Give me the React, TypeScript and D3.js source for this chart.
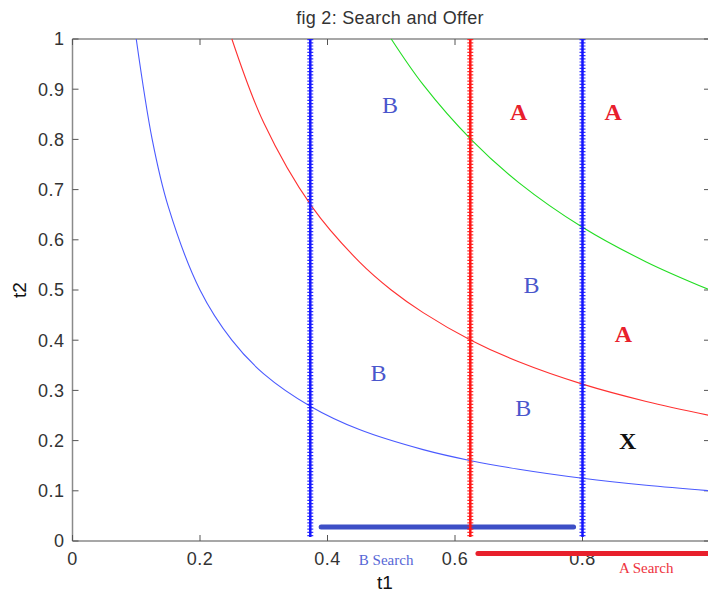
import * as d3 from "d3";
import { useRef, useEffect } from "react";

// curves (t1, t2)
const blueCurve: [number, number][] = [
  [0.1, 1], [0.125, 0.8], [0.15, 0.667], [0.2, 0.5], [0.25, 0.4], [0.3, 0.333],
  [0.375, 0.267], [0.45, 0.222], [0.55, 0.182], [0.625, 0.16], [0.7, 0.143],
  [0.8, 0.125], [0.9, 0.111], [1, 0.1],
];
const redCurve: [number, number][] = [
  [0.25, 1], [0.3, 0.833], [0.375, 0.667], [0.45, 0.556], [0.5, 0.5], [0.55, 0.455],
  [0.625, 0.4], [0.7, 0.357], [0.8, 0.3125], [0.9, 0.278], [1, 0.25],
];
const greenCurve: [number, number][] = [
  [0.5, 1], [0.55, 0.909], [0.625, 0.8], [0.7, 0.714], [0.8, 0.625], [0.9, 0.556], [1, 0.5],
];

const vLines = [
  { x: 0.373, color: "#1414ff" },
  { x: 0.624, color: "#ff1414" },
  { x: 0.8, color: "#1414ff" },
];

const searchBars = [
  { x0: 0.39, x1: 0.786, y: 0.028, color: "#3d4fc6" },
  { x0: 0.636, x1: 1.02, y: -0.025, color: "#e8202c" },
];

const searchLabels = [
  { text: "B Search", x: 0.492, y: -0.047, color: "#5666d6" },
  { text: "A Search", x: 0.9, y: -0.063, color: "#ee3340" },
];

const regionLabels = [
  { text: "B", x: 0.498, y: 0.869, color: "#4a56cc", bold: false },
  { text: "A", x: 0.70, y: 0.855, color: "#e8202c", bold: true },
  { text: "A", x: 0.848, y: 0.855, color: "#e8202c", bold: true },
  { text: "B", x: 0.72, y: 0.51, color: "#4a56cc", bold: false },
  { text: "A", x: 0.864, y: 0.414, color: "#e8202c", bold: true },
  { text: "B", x: 0.48, y: 0.335, color: "#4a56cc", bold: false },
  { text: "B", x: 0.707, y: 0.265, color: "#4a56cc", bold: false },
  { text: "X", x: 0.871, y: 0.2, color: "#111111", bold: true },
];

const xTicks = [0, 0.2, 0.4, 0.6, 0.8, 1];
// the "1" label falls outside the cropped picture
const xTickLabels = [0, 0.2, 0.4, 0.6, 0.8];
const yTicks = [0, 0.1, 0.2, 0.3, 0.4, 0.5, 0.6, 0.7, 0.8, 0.9, 1];

const W = 708;
const H = 593;
const margin = { left: 72.5, right: -2, top: 39, bottom: 52 };

const App = () => {
  const ref = useRef<SVGSVGElement>(null);

  useEffect(() => {
    const svg = d3.select(ref.current);
    svg.selectAll("*").remove();

    const x = d3.scaleLinear().domain([0, 1]).range([margin.left, W - margin.right]);
    const y = d3.scaleLinear().domain([0, 1]).range([H - margin.bottom, margin.top]);

    const axisColor = "#8a8a8a";
    const textColor = "#333";
    const sans = "'Liberation Sans', Arial, sans-serif";
    const serif = "'Liberation Serif', 'Times New Roman', serif";

    // title
    svg.append("text")
      .attr("x", 390).attr("y", 24)
      .attr("text-anchor", "middle")
      .style("font-family", sans).style("font-size", "18px")
      .style("letter-spacing", "0.3px")
      .style("fill", textColor)
      .text("fig 2: Search and Offer");

    // box
    const box = svg.append("g");
    box.append("line").attr("x1", x(0)).attr("x2", x(1)).attr("y1", y(0)).attr("y2", y(0));
    box.append("line").attr("x1", x(0)).attr("x2", x(1)).attr("y1", y(1)).attr("y2", y(1));
    box.append("line").attr("x1", x(0)).attr("x2", x(0)).attr("y1", y(0)).attr("y2", y(1));
    box.append("line").attr("x1", x(1)).attr("x2", x(1)).attr("y1", y(0)).attr("y2", y(1));
    box.selectAll("line").attr("stroke", axisColor).attr("stroke-width", 1.5);

    // ticks pointing inward
    const ticks = svg.append("g").attr("stroke", "#555").attr("stroke-width", 1);
    xTicks.forEach(t => {
      ticks.append("line").attr("x1", x(t)).attr("x2", x(t)).attr("y1", y(0)).attr("y2", y(0) - 6);
      ticks.append("line").attr("x1", x(t)).attr("x2", x(t)).attr("y1", y(1)).attr("y2", y(1) + 6);
    });
    yTicks.forEach(t => {
      ticks.append("line").attr("x1", x(0)).attr("x2", x(0) + 6).attr("y1", y(t)).attr("y2", y(t));
      ticks.append("line").attr("x1", x(1)).attr("x2", x(1) - 6).attr("y1", y(t)).attr("y2", y(t));
    });

    svg.selectAll(".xlab").data(xTickLabels).enter().append("text")
      .attr("x", d => x(d)).attr("y", y(0) + 24)
      .attr("text-anchor", "middle")
      .style("font-family", sans).style("font-size", "18px").style("fill", textColor)
      .style("letter-spacing", "0.5px")
      .text(d => d3.format("~g")(d));

    svg.selectAll(".ylab").data(yTicks).enter().append("text")
      .attr("x", x(0) - 8).attr("y", d => y(d))
      .attr("dy", "0.35em")
      .attr("text-anchor", "end")
      .style("font-family", sans).style("font-size", "18px").style("fill", textColor)
      .style("letter-spacing", "0.5px")
      .text(d => d3.format("~g")(d));

    // axis labels
    svg.append("text")
      .attr("x", 385).attr("y", 589)
      .attr("text-anchor", "middle")
      .style("font-family", sans).style("font-size", "19px").style("fill", "#111")
      .text("t1");
    svg.append("text")
      .attr("transform", `translate(26, 290) rotate(-90)`)
      .attr("text-anchor", "middle")
      .style("font-family", sans).style("font-size", "19px").style("fill", "#111")
      .text("t2");

    // curves
    const line = d3.line<[number, number]>()
      .x(d => x(d[0])).y(d => y(d[1]))
      .curve(d3.curveCatmullRom);
    const curves = [
      { data: blueCurve, color: "#4a5aff" },
      { data: redCurve, color: "#ff3030" },
      { data: greenCurve, color: "#22dd22" },
    ];
    curves.forEach(c => {
      svg.append("path")
        .attr("d", line(c.data))
        .attr("fill", "none")
        .attr("stroke", c.color)
        .attr("stroke-width", 1.1);
    });

    // search bars
    searchBars.forEach(b => {
      svg.append("line")
        .attr("x1", x(b.x0)).attr("x2", x(b.x1))
        .attr("y1", y(b.y)).attr("y2", y(b.y))
        .attr("stroke", b.color).attr("stroke-width", 5)
        .attr("stroke-linecap", "round");
    });

    // vertical threshold lines drawn with + markers
    vLines.forEach(v => {
      svg.append("line")
        .attr("x1", x(v.x)).attr("x2", x(v.x))
        .attr("y1", y(1)).attr("y2", y(0.008))
        .attr("stroke", v.color).attr("stroke-width", 2.5);
      svg.append("line")
        .attr("x1", x(v.x)).attr("x2", x(v.x))
        .attr("y1", y(1)).attr("y2", y(0.008))
        .attr("stroke", v.color).attr("stroke-width", 6)
        .attr("stroke-dasharray", "1.2,2")
        .attr("opacity", 0.85);
    });

    searchLabels.forEach(l => {
      svg.append("text")
        .attr("x", x(l.x)).attr("y", y(l.y))
        .attr("text-anchor", "middle")
        .style("font-family", serif).style("font-size", "15px")
        .style("fill", l.color)
        .text(l.text);
    });

    regionLabels.forEach(l => {
      svg.append("text")
        .attr("x", x(l.x)).attr("y", y(l.y))
        .attr("dy", "0.35em")
        .attr("text-anchor", "middle")
        .style("font-family", serif).style("font-size", "24px")
        .style("font-weight", l.bold ? "bold" : "normal")
        .style("fill", l.color)
        .text(l.text);
    });
  }, []);

  return (
    <svg ref={ref} width={W} height={H}
      style={{ position: "absolute", left: 0, top: 0, background: "#fff" }} />
  );
};

export default App;
